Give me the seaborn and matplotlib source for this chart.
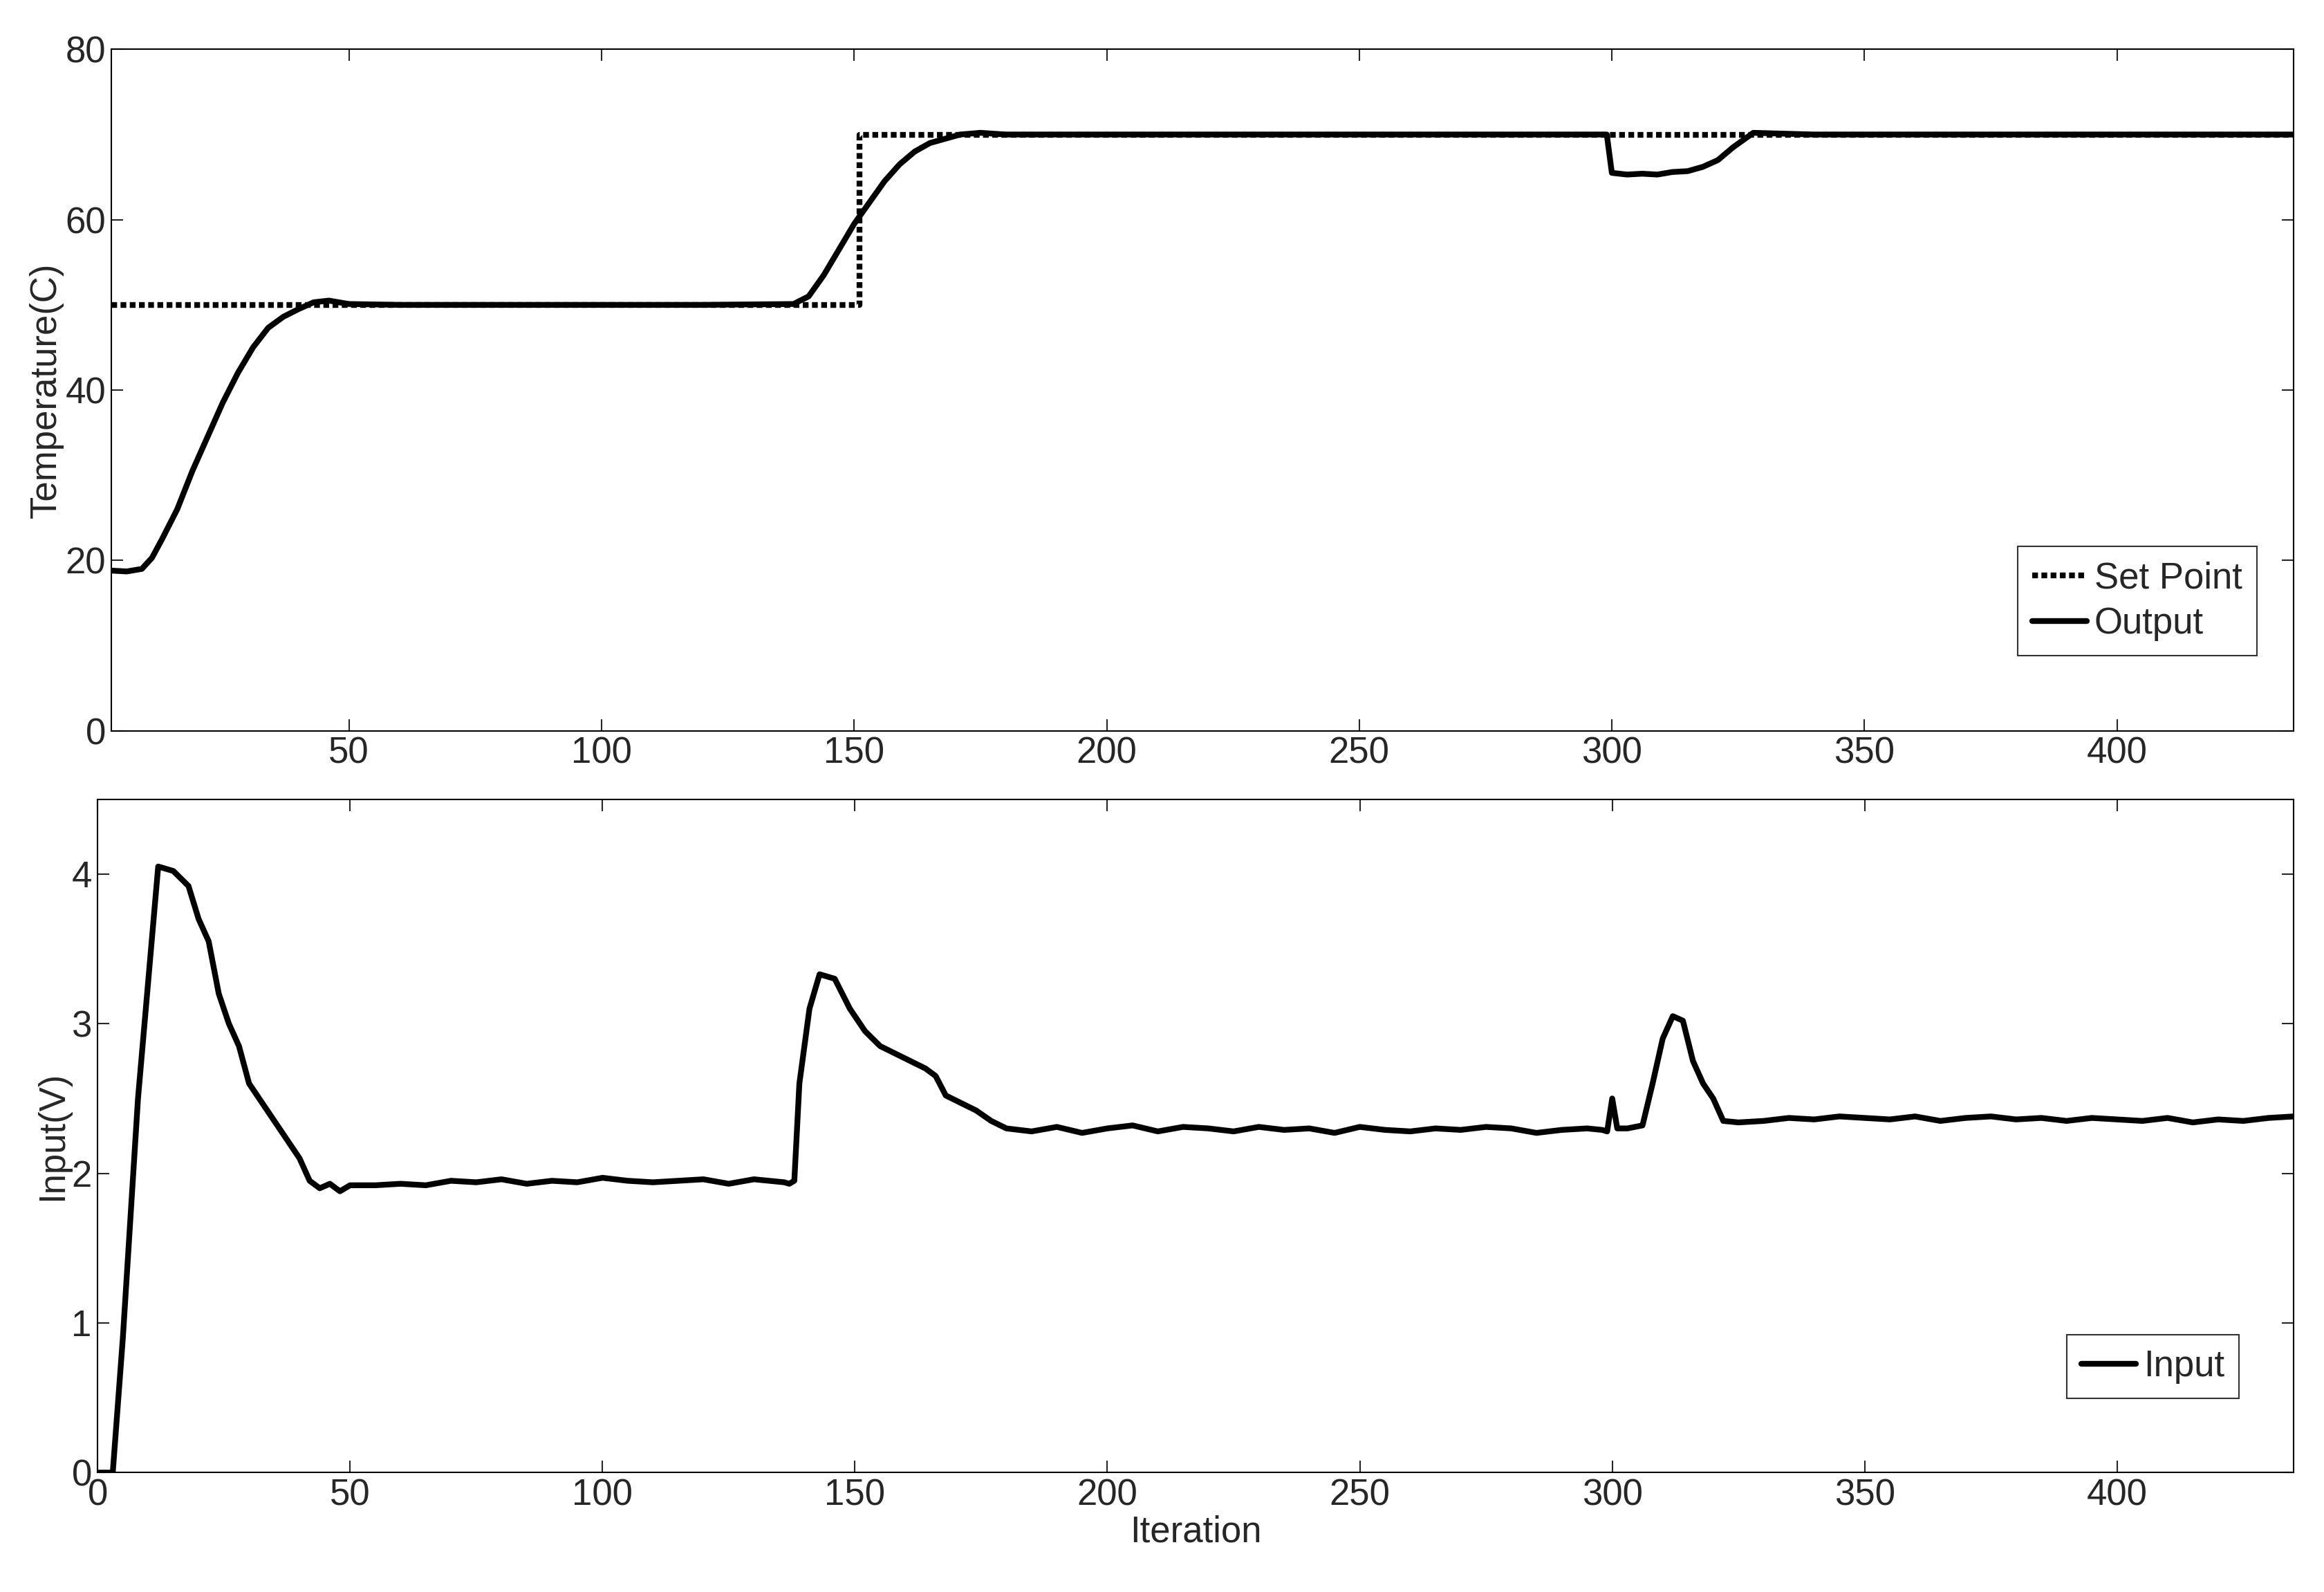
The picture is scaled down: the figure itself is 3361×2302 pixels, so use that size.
import matplotlib
matplotlib.use("Agg")
import matplotlib.pyplot as plt
import seaborn as sns
import numpy as np
import pandas as pd

sns.set_theme(style="white")
plt.rcParams['font.family'] = ['Liberation Sans Narrow', 'Liberation Sans', 'DejaVu Sans']

sp_x = [3, 151, 151, 435]
sp_y = [50, 50, 70, 70]

out_x = [3, 6, 9, 11, 13, 16, 19, 22, 25, 28, 31, 34, 37, 40, 43, 46, 50, 60, 80, 100, 120, 138, 141, 144, 147, 150, 153, 156, 159, 162, 165, 168, 171, 175, 180, 200, 250, 299, 300, 303, 306, 309, 312, 315, 318, 321, 324, 328, 340, 400, 435]
out_y = [18.8, 18.7, 19.0, 20.3, 22.5, 26, 30.5, 34.5, 38.5, 42, 45, 47.3, 48.6, 49.5, 50.3, 50.5, 50.1, 50, 50, 50, 50, 50.1, 51, 53.5, 56.5, 59.5, 62, 64.5, 66.5, 68, 69, 69.5, 70, 70.2, 70, 70, 70, 70, 65.5, 65.3, 65.4, 65.3, 65.6, 65.7, 66.2, 67, 68.5, 70.2, 70, 70, 70]

in_x = [0, 3, 5, 8, 12, 15, 18, 20, 22, 24, 26, 28, 30, 32, 34, 36, 38, 40, 42, 44, 46, 48, 50, 55, 60, 65, 70, 75, 80, 85, 90, 95, 100, 105, 110, 115, 120, 125, 130, 133, 136, 137, 138, 139, 141, 143, 146, 149, 152, 155, 158, 161, 164, 166, 168, 171, 174, 177, 180, 185, 190, 195, 200, 205, 210, 215, 220, 225, 230, 235, 240, 245, 250, 255, 260, 265, 270, 275, 280, 285, 290, 295, 298, 299, 300, 301, 303, 306, 308, 310, 312, 314, 316, 318, 320, 322, 325, 330, 335, 340, 345, 350, 355, 360, 365, 370, 375, 380, 385, 390, 395, 400, 405, 410, 415, 420, 425, 430, 435]
in_y = [0.0, 0.0, 0.9, 2.5, 4.05, 4.02, 3.92, 3.7, 3.55, 3.2, 3.0, 2.85, 2.6, 2.5, 2.4, 2.3, 2.2, 2.1, 1.95, 1.9, 1.93, 1.88, 1.92, 1.92, 1.93, 1.92, 1.95, 1.94, 1.96, 1.93, 1.95, 1.94, 1.97, 1.95, 1.94, 1.95, 1.96, 1.93, 1.96, 1.95, 1.94, 1.93, 1.95, 2.6, 3.1, 3.33, 3.3, 3.1, 2.95, 2.85, 2.8, 2.75, 2.7, 2.65, 2.52, 2.47, 2.42, 2.35, 2.3, 2.28, 2.31, 2.27, 2.3, 2.32, 2.28, 2.31, 2.3, 2.28, 2.31, 2.29, 2.3, 2.27, 2.31, 2.29, 2.28, 2.3, 2.29, 2.31, 2.3, 2.27, 2.29, 2.3, 2.29, 2.28, 2.5, 2.3, 2.3, 2.32, 2.6, 2.9, 3.05, 3.02, 2.75, 2.6, 2.5, 2.35, 2.34, 2.35, 2.37, 2.36, 2.38, 2.37, 2.36, 2.38, 2.35, 2.37, 2.38, 2.36, 2.37, 2.35, 2.37, 2.36, 2.35, 2.37, 2.34, 2.36, 2.35, 2.37, 2.38]

fig = plt.figure(figsize=(33.61, 23.02), dpi=100)
ax1 = fig.add_axes([0.048, 0.541, 0.939, 0.428])
ax2 = fig.add_axes([0.042, 0.075, 0.945, 0.423])
fs = 38
lw = 6

sns.lineplot(x=sp_x, y=sp_y, ax=ax1, color='black', lw=lw, linestyle=(0, (1, 0.6)), label='Set Point', estimator=None, sort=False)
sns.lineplot(x=out_x, y=out_y, ax=ax1, color='black', lw=lw, label='Output', estimator=None, sort=False)
ax1.set_xlim(3, 435)
ax1.set_ylim(0, 80)
ax1.set_xticks(range(50, 401, 50))
ax1.set_yticks(range(0, 81, 20))
ax1.set_ylabel('Temperature(C)', fontsize=fs, labelpad=2)

sns.lineplot(x=in_x, y=in_y, ax=ax2, color='black', lw=lw, label='Input', estimator=None, sort=False)
ax2.set_xlim(0, 435)
ax2.set_ylim(0, 4.5)
ax2.set_xticks(range(0, 401, 50))
ax2.set_yticks(range(0, 5))
ax2.set_ylabel('Input(V)', fontsize=fs, labelpad=2)
ax2.set_xlabel('Iteration', fontsize=fs, labelpad=2)

for ax, anchor in ((ax1, (0.983, 0.11)), (ax2, (0.975, 0.11))):
    ax.tick_params(direction='in', length=12, width=1.5, labelsize=fs, pad=6, top=True, right=True, bottom=True, left=True)
    for s in ax.spines.values():
        s.set_color('black'); s.set_linewidth(1.5)
    leg = ax.legend(loc='lower right', bbox_to_anchor=anchor, fontsize=fs, frameon=True, fancybox=False,
                    handlelength=1.5, handletextpad=0.2, borderaxespad=0, labelspacing=0.3)
    leg.get_frame().set_edgecolor('black'); leg.get_frame().set_linewidth(1.5)

fig.savefig('out.png', dpi=100)
